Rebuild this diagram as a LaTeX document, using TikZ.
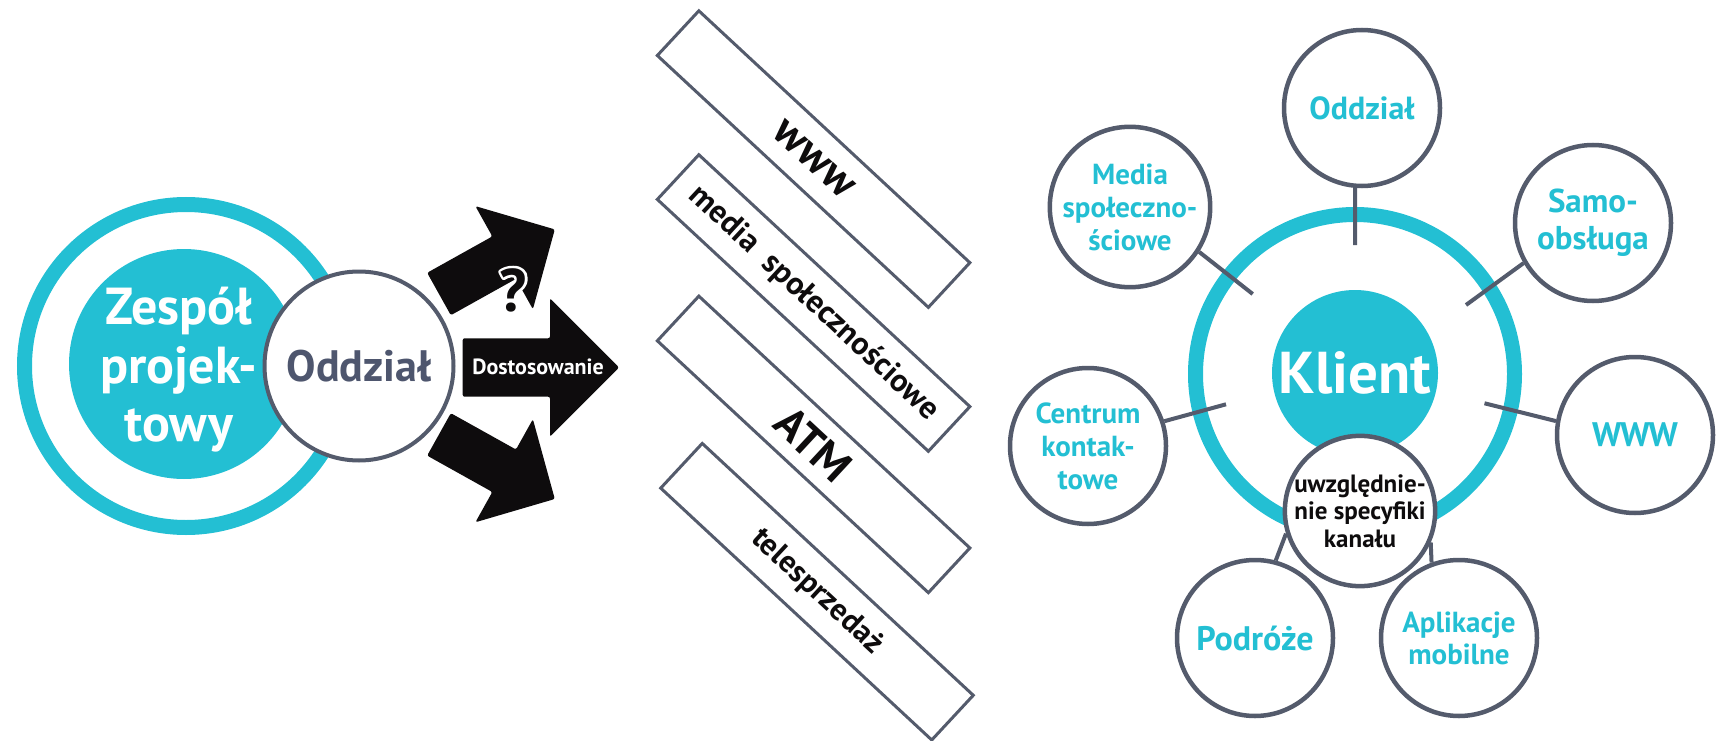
\documentclass[tikz,border=0pt]{standalone}
\usepackage{fontspec}
\setmainfont{PT Sans}
\newcommand{\fsz}[2]{\fontsize{#1}{#2}\selectfont}
\newcommand{\strokeq}{\special{pdf:literal direct 1 Tr 1 1 1 RG 1 J 1 j 5 w}?\special{pdf:literal direct 0 Tr 1 w}}
\definecolor{aqua}{RGB}{35,191,211}
\definecolor{slate}{RGB}{84,91,108}
\definecolor{slatetxt}{RGB}{78,86,110}
\definecolor{ink}{RGB}{14,12,13}
\begin{document}
\begin{tikzpicture}[x=1pt,y=-1pt,
  chan/.style={circle, draw=slate, line width=4.5pt, fill=white, minimum size=156pt, inner sep=0pt, align=center, text=aqua, font=\bfseries},
  link/.style={draw=slate, line width=4pt},
  slab/.style={draw=slate, line width=3pt, minimum width=370pt, minimum height=61pt, rotate=-42.9, inner sep=0pt, text=ink},
  bigarrow/.style={fill=ink, rounded corners=2pt}]
\useasboundingbox (0,0) rectangle (1727,741);

% ---------- left cluster
\node[circle, draw=aqua, line width=15pt, minimum size=323pt, inner sep=0pt] (teamring) at (186,366) {};
\node[circle, fill=aqua, minimum size=230pt, inner sep=0pt] (team) at (184,364) {};
\node[text=white, align=center, inner sep=0pt, font=\bfseries\fsz{52}{58.5}] (teamlabel) at (179,370) {Zespół\\projek-\\towy};
\node[circle, draw=slate, line width=4pt, fill=white, minimum size=189pt, inner sep=0pt, text=slatetxt, font=\bfseries\fsz{44}{50}] (branch) at (359,366) {Oddział};

% ---------- arrows
\begin{scope}[shift={(439,294)}, rotate=29.15]
\fill[bigarrow] (0,-24.3) -- (74.6,-24.3) -- (74.6,-59) -- (132.6,0) -- (74.6,59) -- (74.6,24.3) -- (0,24.3) -- cycle;
\end{scope}
\begin{scope}[shift={(439,434.4)}, rotate=-29.15]
\fill[bigarrow] (0,-24.3) -- (74.6,-24.3) -- (74.6,-59) -- (132.6,0) -- (74.6,59) -- (74.6,24.3) -- (0,24.3) -- cycle;
\end{scope}
\fill[bigarrow] (462.7,338.3) -- (550,338.3) -- (550,298.3) -- (619,367.5) -- (550,436.7) -- (550,396.7) -- (462.7,396.7) -- cycle;
\node[text=white, font=\bfseries\fsz{22}{26}, inner sep=0pt] (adapt) at (538,367) {Dostosowanie};

% question mark: black with white outline
\node[text=white, font=\bfseries\fsz{60}{60}, inner sep=0pt] (qhalo) at (513,290) {\strokeq};
\node[text=ink, font=\bfseries\fsz{60}{60}, inner sep=0pt] (qmark) at (513,290) {?};

% ---------- channel slabs
\node[slab, font=\bfseries\fsz{44}{50}] (bwww) at (813.6,159.1) {www};
\node[slab, font=\bfseries\fsz{32}{36}] (bmedia) at (813.6,303) {media\ \ społecznościowe};
\node[slab, font=\bfseries\fsz{45}{50}] (batm) at (813.6,444.4) {ATM};
\node[slab, font=\bfseries\fsz{31}{36}] (btele) at (817,591.7) {telesprzedaż};

% ---------- right cluster
\node[circle, draw=aqua, line width=15pt, minimum size=319pt, inner sep=0pt] (clientring) at (1355,374) {};
\node[circle, fill=aqua, minimum size=166pt, inner sep=0pt, text=white, font=\bfseries\fsz{59}{60}] (client) at (1355,373) {Klient};

\node[chan, font=\bfseries\fsz{32}{37}] (oddz) at (1362,108) {Oddział};
\node[chan, font=\bfseries\fsz{29}{33}] (media) at (1130,207) {Media\\społeczno-\\ściowe};
\node[chan, font=\bfseries\fsz{33}{37}] (samo) at (1593,223) {Samo-\\obsługa};
\node[chan, font=\bfseries\fsz{29}{33}] (centrum) at (1088,446) {Centrum\\kontak-\\towe};
\node[chan, font=\bfseries\fsz{34}{37}] (wwwc) at (1635,435) {WWW};
\node[chan, font=\bfseries\fsz{34}{37}] (podroze) at (1255,638) {Podróże};
\node[chan, font=\bfseries\fsz{29}{32}] (aplik) at (1459,638) {Aplikacje\\mobilne};
\node[chan, minimum size=134pt, text=ink, font=\bfseries\fsz{25}{27.5}] (uwz) at (1360,511) {uwzględnie-\\nie specyfiki\\kanału};

\coordinate (e1) at (1355,245);
\coordinate (e2) at (1252.7,294);
\coordinate (e3) at (1466,305);
\coordinate (e4) at (1226,404.3);
\coordinate (e5) at (1484.5,403.3);
\draw[link] (oddz.-95) -- (e1);
\draw[link] (media.-33.7) -- (e2);
\draw[link] (samo.210.5) -- (e3);
\draw[link] (centrum.18) -- (e4);
\draw[link] (wwwc.170) -- (e5);
\draw[link] (uwz.197.6) -- (podroze.75);
\draw[link] (uwz.-24.8) -- (aplik.110);
\end{tikzpicture}
\end{document}
